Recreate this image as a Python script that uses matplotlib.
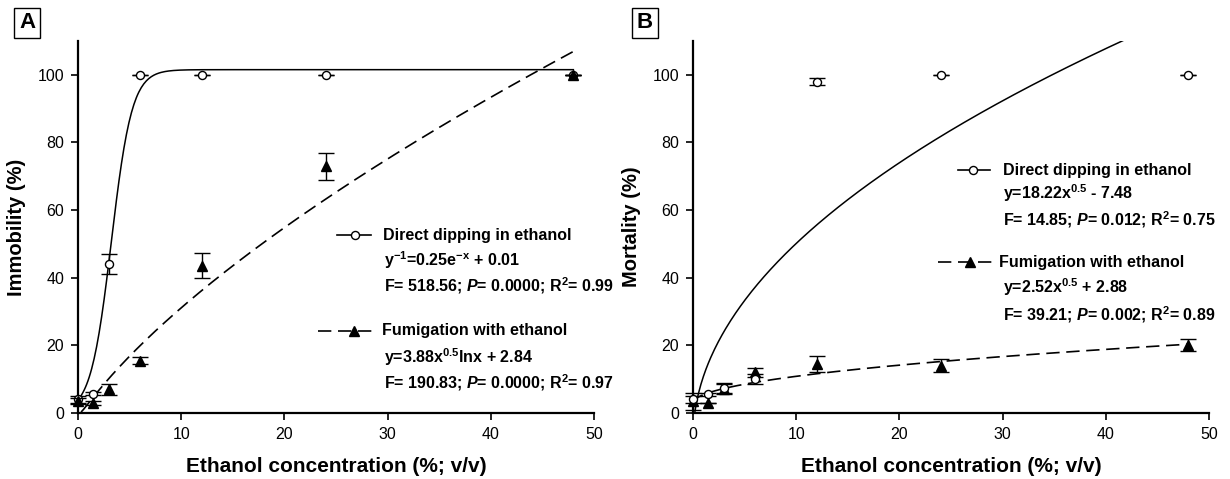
import numpy as np
import matplotlib

matplotlib.use("Agg")
import matplotlib.pyplot as plt
from matplotlib.lines import Line2D

plt.rcParams["font.family"] = ["Liberation Sans", "DejaVu Sans"]
plt.rcParams["mathtext.fontset"] = "custom"
plt.rcParams["mathtext.rm"] = "Liberation Sans:bold"
plt.rcParams["mathtext.bf"] = "Liberation Sans:bold"
plt.rcParams["mathtext.it"] = "Liberation Sans:bold:italic"
plt.rcParams["mathtext.default"] = "rm"

# concentrations (%; v/v)
conc = [0, 1.5, 3, 6, 12, 24, 48]

# panel A: immobility (%)
imm_dip = [4, 5.7, 44, 100, 100, 100, 100]
imm_dip_err = [1.0, 0.5, 3.0, 0, 0, 0, 0]
imm_fum = [3.5, 3.0, 7.0, 15.5, 43.5, 73, 100]
imm_fum_err = [0.8, 0.5, 1.7, 1.0, 3.7, 4.0, 0]

# panel B: mortality (%)
mort_dip = [4, 5.5, 7.5, 10, 98, 100, 100]
mort_dip_err = [1.0, 0.5, 1.5, 1.5, 1.0, 0, 0]
mort_fum = [3.5, 3.0, 7.0, 12, 14.5, 14, 20]
mort_fum_err = [2.5, 0, 1.5, 1.3, 2.3, 2.0, 1.8]

# fitted model coefficients (as printed on the chart)
fit_a_dip = (0.25, 0.00985)   # 1/y = a*exp(-x) + b
fit_a_fum = (3.88, 2.84)      # y = a*sqrt(x)*ln(x) + b
fit_b_dip = (18.22, -7.48)    # y = a*sqrt(x) + b
fit_b_fum = (2.52, 2.88)      # y = a*sqrt(x) + b

legend_a = [
    ("Direct dipping in ethanol", r"y$^{-1}$=0.25e$^{-x}$ + 0.01",
     r"F= 518.56; $\mathit{P}$= 0.0000; R$^{2}$= 0.99"),
    ("Fumigation with ethanol", r"y=3.88x$^{0.5}$lnx + 2.84",
     r"F= 190.83; $\mathit{P}$= 0.0000; R$^{2}$= 0.97"),
]
legend_b = [
    ("Direct dipping in ethanol", r"y=18.22x$^{0.5}$ - 7.48",
     r"F= 14.85; $\mathit{P}$= 0.012; R$^{2}$= 0.75"),
    ("Fumigation with ethanol", r"y=2.52x$^{0.5}$ + 2.88",
     r"F= 39.21; $\mathit{P}$= 0.002; R$^{2}$= 0.89"),
]

W, H = 1230, 479
fig = plt.figure(figsize=(W / 100, H / 100), dpi=100)

DASH = (8, 4)
BOTTOM, TOP = 413, 41


def fx(px):
    return px / W


def fy(py):
    return 1 - py / H


def style_axes(ax, ylabel):
    ax.set_xlim(0, 50)
    ax.set_ylim(0, 110)
    ax.set_xticks(range(0, 51, 10))
    ax.set_yticks(range(0, 101, 20))
    for side in ("top", "right"):
        ax.spines[side].set_visible(False)
    for side in ("left", "bottom"):
        ax.spines[side].set_linewidth(1.6)
    ax.tick_params(direction="out", length=5, width=1.2, labelsize=11.5, pad=5)
    ax.set_xlabel("Ethanol concentration (%; v/v)", fontsize=15, fontweight="bold", labelpad=11)
    ax.set_ylabel(ylabel, fontsize=14.5, fontweight="bold", labelpad=8)


def draw_points(ax, y_dip, e_dip, y_fum, e_fum, tri_on_top=False):
    z_tri, z_circ = (6, 5) if tri_on_top else (4, 5)
    ax.errorbar(conc, y_fum, yerr=e_fum, fmt="^", color="black", ms=7,
                capsize=5.5, elinewidth=1.0, capthick=1.0, clip_on=False, zorder=z_tri)
    ax.errorbar(conc, y_dip, yerr=e_dip, fmt="o", color="black", mfc="white", ms=5.8,
                mew=1.0, capsize=5.5, elinewidth=1.0, capthick=1.0, clip_on=False, zorder=z_circ)


def draw_legend(items, samples, x_text, rows):
    (t1, eq1, st1), (t2, eq2, st2) = items
    (y1, y1e, y1s), (y2, y2e, y2s) = rows
    (s1a, s1b, m1), (s2a, s2b, m2) = samples
    # solid sample with open circle
    fig.add_artist(Line2D([fx(s1a), fx(s1b)], [fy(y1), fy(y1)],
                          color="black", lw=1.2, transform=fig.transFigure))
    fig.add_artist(Line2D([fx(m1)], [fy(y1)], marker="o", ms=5.8,
                          mfc="white", mec="black", mew=1.0, transform=fig.transFigure))
    # dashed sample with filled triangle
    fig.add_artist(Line2D([fx(s2a), fx(s2b)], [fy(y2), fy(y2)],
                          color="black", lw=1.2, dashes=DASH, transform=fig.transFigure))
    fig.add_artist(Line2D([fx(m2)], [fy(y2)], marker="^", ms=7,
                          color="black", transform=fig.transFigure))
    kw = dict(fontsize=11.5, fontweight="bold", va="center")
    fig.text(fx(x_text[0]), fy(y1), t1, **kw)
    fig.text(fx(x_text[1]), fy(y1e), eq1, **kw)
    fig.text(fx(x_text[1]), fy(y1s), st1, **kw)
    fig.text(fx(x_text[2]), fy(y2), t2, **kw)
    fig.text(fx(x_text[1]), fy(y2e), eq2, **kw)
    fig.text(fx(x_text[1]), fy(y2s), st2, **kw)


# ---- panel A
axA = fig.add_axes([fx(78), fy(BOTTOM), fx(594 - 78), (BOTTOM - TOP) / H])
style_axes(axA, "Immobility (%)")
xs = np.linspace(0, 48, 400)
a, b = fit_a_dip
axA.plot(xs, 1.0 / (a * np.exp(-xs) + b), color="black", lw=1.1, zorder=3)
xs = np.linspace(0.3, 48, 400)
a, b = fit_a_fum
axA.plot(xs, a * np.sqrt(xs) * np.log(xs) + b, color="black", lw=1.2, dashes=DASH, zorder=3)
draw_points(axA, imm_dip, imm_dip_err, imm_fum, imm_fum_err, tri_on_top=True)
draw_legend(legend_a, [(337, 371, 355), (318, 372, 354)], (383, 384, 382),
            [(235, 260, 286), (331, 357, 383)])

# ---- panel B
axB = fig.add_axes([fx(693), fy(BOTTOM), fx(1209 - 693), (BOTTOM - TOP) / H])
style_axes(axB, "Mortality (%)")
xs = np.linspace(0.17, 48, 400)
a, b = fit_b_dip
axB.plot(xs, a * np.sqrt(xs) + b, color="black", lw=1.1, zorder=3)
xs = np.linspace(0, 48, 400)
a, b = fit_b_fum
axB.plot(xs, a * np.sqrt(xs) + b, color="black", lw=1.2, dashes=DASH, zorder=3)
draw_points(axB, mort_dip, mort_dip_err, mort_fum, mort_fum_err)
draw_legend(legend_b, [(958, 990, 973), (938, 993, 970)], (1003, 1003, 999),
            [(170, 193, 220), (262, 287, 315)])

# panel letters
for letter, px in (("A", 27), ("B", 645)):
    fig.text(fx(px), fy(23), letter, fontsize=16, fontweight="bold", ha="center", va="center",
             bbox=dict(boxstyle="square,pad=0.22", fc="white", ec="black", lw=1.0))

fig.savefig("out.png", dpi=100)
